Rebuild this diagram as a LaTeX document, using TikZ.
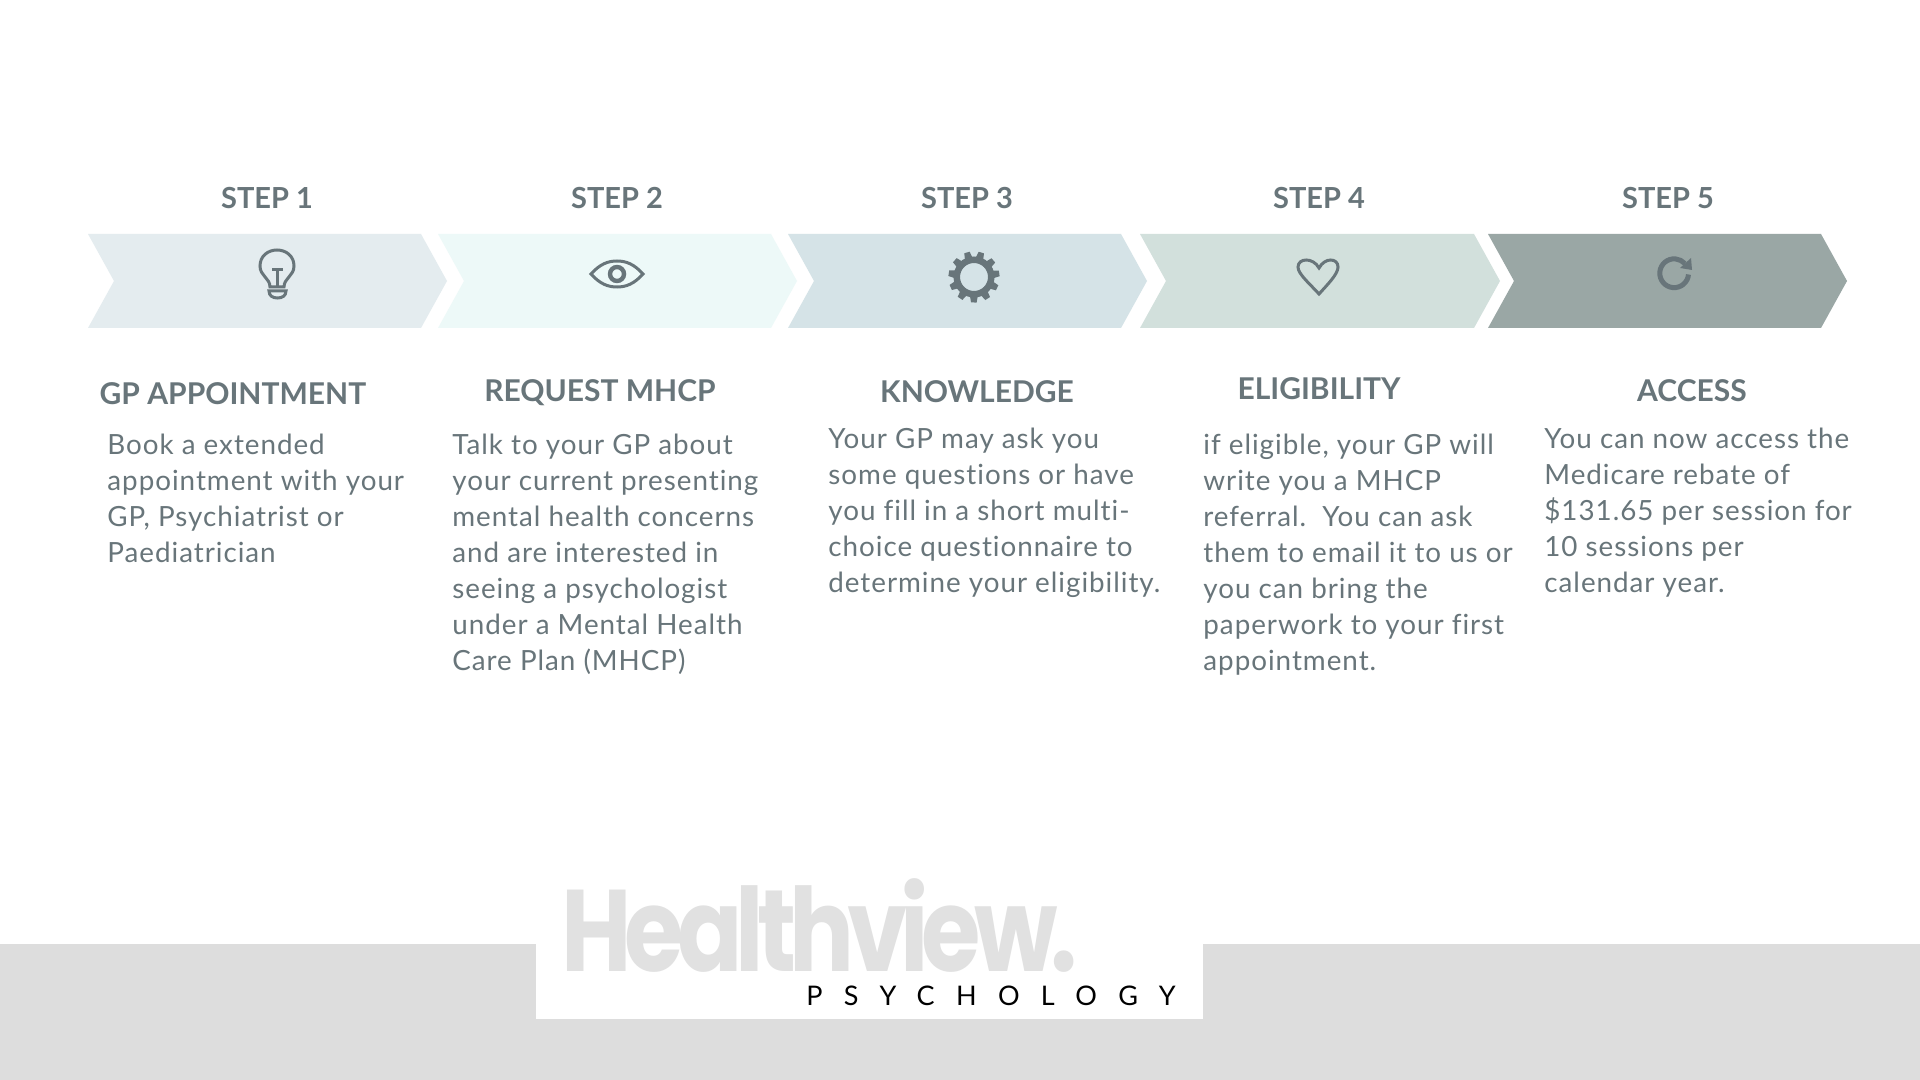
\documentclass[tikz,border=0pt]{standalone}
\usepackage{fontspec}
\setmainfont{Lato}
\newfontfamily\logofont[LetterSpace=-6,FakeStretch=.83]{Poppins Bold}
\newfontfamily\wordfont[LetterSpace=79]{Lato}
\newfontfamily\bodyfont[LetterSpace=3.5,Ligatures=NoCommon]{Lato}
\definecolor{stepgrey}{RGB}{104,117,122}
\definecolor{chevronone}{RGB}{228,236,239}
\definecolor{chevrontwo}{RGB}{237,249,248}
\definecolor{chevronthree}{RGB}{213,227,231}
\definecolor{chevronfour}{RGB}{210,224,220}
\definecolor{chevronfive}{RGB}{154,167,165}
\definecolor{bandgrey}{RGB}{221,221,221}
\definecolor{logogrey}{RGB}{225,225,225}
\begin{document}
\begin{tikzpicture}[x=.5pt,y=-.5pt,
    steplabel/.style={text=stepgrey,font=\fontsize{14.5}{17}\selectfont\bfseries,inner sep=0pt},
    heading/.style={text=stepgrey,font=\fontsize{15}{18}\selectfont\bfseries,inner sep=0pt},
    bodytext/.style={text=stepgrey,font=\bodyfont\fontsize{13.9}{17.95}\selectfont,
      align=left,anchor=north west,inner sep=0pt},
    iconline/.style={draw=stepgrey,line width=1.5pt,fill=none}]
    \useasboundingbox (0,0) rectangle (1920,1080);
    \fill[white] (0,0) rectangle (1920,1080);
    \fill[bandgrey] (0,944) rectangle (1920,1080);
    \fill[white] (536,944) rectangle (1203,1019);

    \foreach \x/\w/\c in {88/359/chevronone,438/359/chevrontwo,788/359/chevronthree,
      1140/360/chevronfour,1488/359/chevronfive}
      \fill[\c] (\x,234) -- ({\x+\w-26},234) -- ({\x+\w},281) -- ({\x+\w-26},328)
        -- (\x,328) -- ({\x+26},281) -- cycle;

    \node[steplabel] (stepa) at (267,198) {STEP 1};
    \node[steplabel] (stepb) at (617,198) {STEP 2};
    \node[steplabel] (stepc) at (967,198) {STEP 3};
    \node[steplabel] (stepd) at (1319,198) {STEP 4};
    \node[steplabel] (stepe) at (1668,198) {STEP 5};

    \draw[iconline] (270,287) .. controls (270,278) and (260,276) .. (260,266)
      .. controls (260,256) and (268,250) .. (277,250)
      .. controls (286,250) and (294,256) .. (294,266)
      .. controls (294,276) and (284,278) .. (284,287) -- cycle;
    \draw[iconline] (272,270) -- (283,270) (277.5,270) -- (277.5,287);
    \draw[iconline] (269,291) -- (286,291) .. controls (286,296) and (282,298) .. (277.5,298)
      .. controls (273,298) and (269,296) .. (269,291) -- cycle;

    \draw[iconline] (591,274) .. controls (600,264) and (608,261) .. (617,261)
      .. controls (626,261) and (634,264) .. (643,274)
      .. controls (634,284) and (626,287) .. (617,287)
      .. controls (608,287) and (600,284) .. (591,274) -- cycle;
    \draw[stepgrey,line width=2.2pt] (617,274) circle (7);

    \draw[stepgrey,line width=3.25pt] (974,277) circle (17.25);
    \foreach \a in {0,32.7,...,327}
      \fill[stepgrey,shift={(974,277)},rotate=\a+8] (19,-3.9) -- (25.5,-2.8) -- (25.5,2.8) -- (19,3.9) -- cycle;

    \draw[iconline] (1319,294) .. controls (1310,284) and (1298,274) .. (1298,267)
      .. controls (1298,258) and (1313,257) .. (1319,268)
      .. controls (1325,257) and (1338,258) .. (1338,267)
      .. controls (1338,274) and (1328,284) .. (1319,294) -- cycle;

    \draw[stepgrey,line width=2.5pt] (1688.5,274.5) arc[start angle=-5,end angle=-318,radius=7.2pt];
    \fill[stepgrey] (1680,268) -- (1692,270) -- (1691,258) -- cycle;

    \node[heading] (titlea) at (233,394) {GP APPOINTMENT};
    \node[heading] (titleb) at (600,393) {REQUEST MHCP};
    \node[heading] (titlec) at (977,392) {KNOWLEDGE};
    \node[heading] (titled) at (1319,389) {ELIGIBILITY};
    \node[heading] (titlee) at (1692,391) {ACCESS};

    \node[bodytext] (texta) at (107,434) {Book a extended\\appointment with your\\GP, Psychiatrist or\\Paediatrician};
    \node[bodytext] (textb) at (452,434) {Talk to your GP about\\your current presenting\\mental health concerns\\and are interested in\\seeing a psychologist\\under a Mental Health\\Care Plan (MHCP)};
    \node[bodytext] (textc) at (828,428) {Your GP may ask you\\some questions or have\\you fill in a short multi-\\choice questionnaire to\\determine your eligibility.};
    \node[bodytext] (textd) at (1203,434) {if eligible, your GP will\\write you a MHCP\\referral.\ \ You can ask\\them to email it to us or\\you can bring the\\paperwork to your first\\appointment.};
    \node[bodytext] (texte) at (1544,428) {You can now access the\\Medicare rebate of\\\$131.65 per session for\\10 sessions per\\calendar year.};

    \node[text=logogrey,font=\logofont\fontsize{58}{60}\selectfont,inner sep=0pt,anchor=base west] (logoword) at (561,971) {Healthview.};
    \node[text=black,font=\wordfont\fontsize{13.5}{16}\selectfont,inner sep=0pt,anchor=base west] (logosub) at (806,1005) {PSYCHOLOGY};
\end{tikzpicture}
\end{document}
